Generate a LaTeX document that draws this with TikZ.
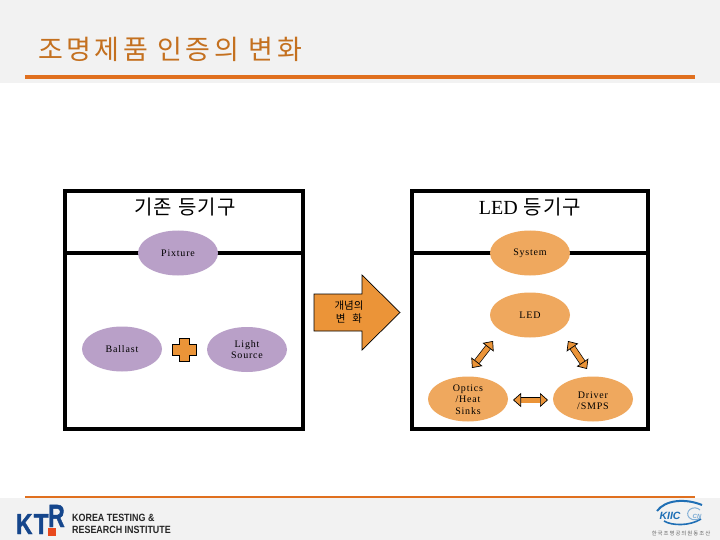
\documentclass[tikz,border=0pt]{standalone}
\usepackage{fontspec}
\setmainfont{Liberation Serif}
\newfontfamily\krfont{Noto Sans CJK KR}
\newfontfamily\logofont{Liberation Sans}
\usetikzlibrary{shapes.geometric,shapes.misc,shapes.arrows,arrows.meta}
\definecolor{bandgray}{HTML}{F2F2F2}
\definecolor{ruleorange}{HTML}{E0701F}
\definecolor{titleorange}{HTML}{C4701F}
\definecolor{fillorange}{HTML}{EB9438}
\definecolor{ellorange}{HTML}{EFA85E}
\definecolor{ellpurple}{HTML}{B9A0C8}
\definecolor{ktrblue}{HTML}{15468C}
\definecolor{ktrred}{HTML}{E8491D}
\definecolor{kiicblue}{HTML}{1F6FB5}
\tikzset{
  x=1pt,y=-1pt,
  panel/.style={draw=black,line width=3.6pt,fill=white},
  divider/.style={draw=black,line width=3.4pt},
  ell/.style={ellipse,minimum width=80pt,minimum height=45pt,inner sep=0pt,align=center,
    font=\fontsize{10}{11.5}\selectfont\addfontfeature{LetterSpace=8}},
  pur/.style={ell,fill=ellpurple},
  org/.style={ell,fill=ellorange},
  head/.style={font=\krfont\fontsize{20}{22}\selectfont\addfontfeature{LetterSpace=6},inner sep=0pt},
  dblarrow/.style={draw=black,line width=0.7pt,double=fillorange,double distance=5pt,
    {Triangle[fill=fillorange,length=8pt,width=14pt]}-{Triangle[fill=fillorange,length=8pt,width=14pt]}},
  ktrletter/.style={inner sep=0pt,anchor=base west,text=ktrblue},
}
\begin{document}
\begin{tikzpicture}
\useasboundingbox (0,0) rectangle (720,540);
% bands
\fill[bandgray] (0,0) rectangle (720,83);
\fill[bandgray] (0,498) rectangle (720,540);
\fill[ruleorange] (25,75) rectangle (695,79);
\fill[ruleorange] (25,496) rectangle (695,498);
\node[anchor=west,inner sep=0pt,text=titleorange,font=\krfont\fontsize{27}{29}\selectfont\addfontfeature{LetterSpace=13}] (title) at (38,49) {조명제품 인증의 변화};
% panels
\draw[panel] (65,191) rectangle (303,429);
\draw[panel] (412,191) rectangle (648,429);
\draw[divider] (65,253) -- (303,253);
\draw[divider] (412,253) -- (648,253);
\node[head] (hl) at (185,207) {기존 등기구};
\node[head] (hr) at (530,207) {{\rmfamily LED} 등기구};
% left ellipses
\node[pur] (pix) at (178,253) {Pixture};
\node[pur] (bal) at (122,349) {Ballast};
\node[pur] (src) at (247,349.5) {Light\\Source};
\draw[fill=fillorange,draw=black,line width=0.7pt]
  (179,338) -- (189,338) -- (189,344) -- (196,344) -- (196,355) -- (189,355) -- (189,361)
  -- (179,361) -- (179,355) -- (172,355) -- (172,344) -- (179,344) -- cycle;
% big arrow
\draw[fill=fillorange,draw=black,line width=0.7pt]
  (314,294) -- (362,294) -- (362,275) -- (400,312.5) -- (362,350) -- (362,331) -- (314,331) -- cycle;
\node[inner sep=0pt,align=center,font=\krfont\fontsize{10.5}{13}\selectfont] (chg) at (349,312) {개념의\\변\hspace{7pt}화};
% right ellipses
\node[org] (sys) at (530,253) {System};
\node[org] (led) at (530,315) {LED};
\node[org] (opt) at (468,399) {\smash{\raisebox{-4pt}{\begin{tabular}{@{}c@{}}Optics\\/Heat\\Sinks\end{tabular}}}};
\node[org] (drv) at (593,399) {\smash{\raisebox{-5pt}{\begin{tabular}{@{}c@{}}Driver\\/SMPS\end{tabular}}}};
% double arrows
\coordinate (a1) at (472,368); \coordinate (a2) at (493,341);
\coordinate (b1) at (568,341); \coordinate (b2) at (587,369);
\coordinate (c1) at (513,400); \coordinate (c2) at (548,400);
\draw[dblarrow] (a1) -- (a2);
\draw[dblarrow] (b1) -- (b2);
\draw[dblarrow] (c1) -- (c2);
% KTR logo
\node[ktrletter,xscale=0.78,font=\logofont\bfseries\fontsize{29}{29}\selectfont\addfontfeature{FakeBold=1.5}] (ktk) at (16,534) {K};
\node[ktrletter,xscale=0.85,font=\logofont\bfseries\fontsize{29}{29}\selectfont\addfontfeature{FakeBold=1.5}] (ktt) at (33.5,534) {T};
\node[ktrletter,xscale=0.72,font=\logofont\bfseries\fontsize{32}{32}\selectfont\addfontfeature{FakeBold=1.5}] (ktr) at (48,527) {R};
\fill[ktrred] (48,528) rectangle (56,536);
\node[inner sep=0pt,anchor=west,xscale=0.85,text=black!85,font=\logofont\bfseries\fontsize{10.5}{12}\selectfont] (kt1) at (72,518) {KOREA TESTING \&};
\node[inner sep=0pt,anchor=west,xscale=0.85,text=black!85,font=\logofont\bfseries\fontsize{10.5}{12}\selectfont] (kt2) at (72,530) {RESEARCH INSTITUTE};
% KIIC logo
\draw[kiicblue,line width=2pt] (657,511) .. controls (665,500) and (685,498) .. (702,505);
\draw[kiicblue,line width=1.6pt] (664,521) .. controls (672,526) and (690,526) .. (701,519);
\draw[kiicblue!55,line width=1pt] (700,510) arc (40:320:7pt and 6pt);
\node[inner sep=0pt,text=kiicblue,font=\logofont\bfseries\itshape\fontsize{10.5}{10}\selectfont] (kiic) at (670,516) {KIIC};
\node[inner sep=0pt,text=kiicblue!60,font=\logofont\bfseries\itshape\fontsize{6}{7}\selectfont] (cn) at (697,516) {CN};
\node[inner sep=0pt,text=black!60,font=\krfont\fontsize{5.4}{6}\selectfont\addfontfeature{LetterSpace=18}] (kiict) at (681,533) {한국조명공의원동조산};
\end{tikzpicture}
\end{document}
